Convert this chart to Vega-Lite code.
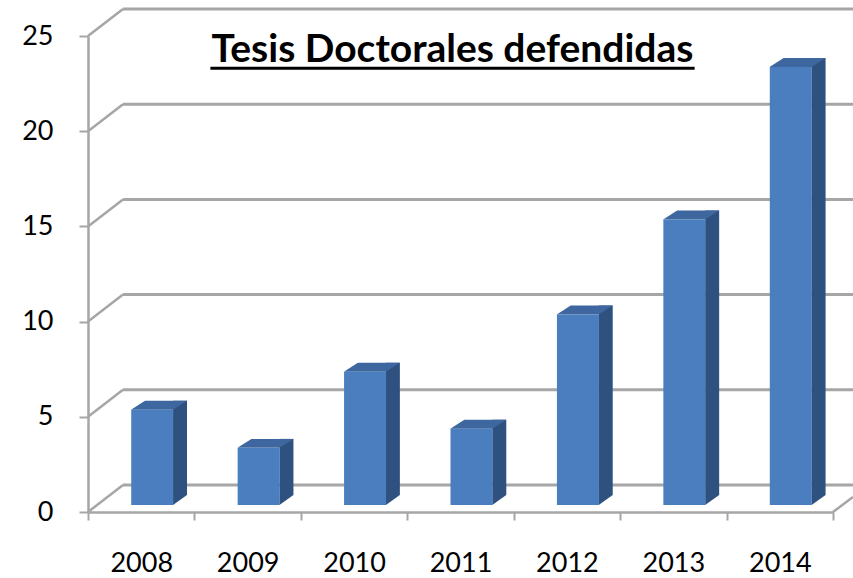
{
  "$schema": "https://vega.github.io/schema/vega-lite/v6.json",
  "width": 745,
  "height": 476,
  "autosize": {"type": "none"},
  "padding": {"left": 88, "top": 36, "right": 20, "bottom": 66},
  "background": "white",
  "config": {
    "view": {"stroke": null},
    "font": "Lato",
    "axis": {"grid": false, "domainColor": "#a6a6a6", "domainWidth": 2.5, "tickColor": "#a6a6a6", "tickWidth": 2, "labelColor": "#000000", "labelFont": "Lato", "labelFontSize": 26, "title": null}
  },
  "datasets": {
    "tesis": [
      {"year": "2008", "n": 5},
      {"year": "2009", "n": 3},
      {"year": "2010", "n": 7},
      {"year": "2011", "n": 4},
      {"year": "2012", "n": 10},
      {"year": "2013", "n": 15},
      {"year": "2014", "n": 23}
    ],
    "grid": [{"v": 0}, {"v": 5}, {"v": 10}, {"v": 15}, {"v": 20}, {"v": 25}],
    "one": [{"t": "Tesis Doctorales defendidas"}]
  },
  "layer": [
    {
      "data": {"name": "grid"},
      "mark": {"type": "rule", "color": "#a6a6a6", "strokeWidth": 3, "xOffset": 35, "x2Offset": 60, "yOffset": -27, "y2Offset": -27},
      "encoding": {
        "x": {"datum": "2008", "type": "nominal", "bandPosition": 0},
        "x2": {"datum": "2014", "bandPosition": 1},
        "y": {"field": "v", "type": "quantitative", "scale": {"domain": [0, 25], "nice": false, "zero": true}, "title": null},
        "y2": {"field": "v"}
      }
    },
    {
      "data": {"name": "grid"},
      "mark": {"type": "rule", "color": "#a6a6a6", "strokeWidth": 2.5, "x2Offset": 35, "y2Offset": -27},
      "encoding": {
        "x": {"datum": "2008", "type": "nominal", "bandPosition": 0},
        "x2": {"datum": "2008", "bandPosition": 0},
        "y": {"field": "v", "type": "quantitative"},
        "y2": {"field": "v"}
      }
    },
    {
      "data": {"name": "one"},
      "mark": {"type": "rule", "color": "#a6a6a6", "strokeWidth": 2.5, "x2Offset": 20, "y2Offset": -15},
      "encoding": {
        "x": {"datum": "2014", "type": "nominal", "bandPosition": 1},
        "x2": {"datum": "2014", "bandPosition": 1},
        "y": {"datum": 0, "type": "quantitative"},
        "y2": {"datum": 0}
      }
    },
    {
      "data": {"name": "tesis"},
      "mark": {"type": "bar", "color": "#2f5180", "width": 14, "xOffset": 38.8, "yOffset": -16, "y2Offset": -17},
      "encoding": {
        "x": {"field": "year", "type": "nominal"},
        "y": {"field": "n", "type": "quantitative"},
        "y2": {"datum": 0}
      }
    },
    {
      "data": {"name": "tesis"},
      "mark": {"type": "point", "shape": "M-1,-0.714L-1,0.714L1,-0.714Z", "size": 196, "filled": true, "opacity": 1, "color": "#2f5180", "strokeWidth": 0, "xOffset": 38.8, "yOffset": -12},
      "encoding": {
        "x": {"field": "year", "type": "nominal"},
        "y": {"datum": 0, "type": "quantitative"}
      }
    },
    {
      "data": {"name": "tesis"},
      "mark": {"type": "point", "shape": "M-1,0.16L0.5,0.16L1,-0.16L-0.5,-0.16Z", "size": 3136, "filled": true, "opacity": 1, "color": "#3d679e", "strokeWidth": 0, "xOffset": 17.8, "yOffset": -11.5},
      "encoding": {
        "x": {"field": "year", "type": "nominal"},
        "y": {"field": "n", "type": "quantitative"}
      }
    },
    {
      "data": {"name": "tesis"},
      "mark": {"type": "bar", "color": "#4a7ebf", "width": 42, "xOffset": 11, "yOffset": -7, "y2Offset": -7},
      "encoding": {
        "x": {
          "field": "year", "type": "nominal", "title": null,
          "scale": {"type": "band", "paddingInner": 0, "paddingOuter": 0},
          "axis": {"labelAngle": 0, "labelAlign": "center", "labelFontSize": 27, "tickBand": "extent", "tickSize": 8, "labelPadding": 30, "labelBaseline": "top"}
        },
        "y": {
          "field": "n", "type": "quantitative", "title": null,
          "axis": {"values": [0, 5, 10, 15, 20, 25], "tickSize": 9, "labelPadding": 26, "labelFontSize": 27}
        },
        "y2": {"datum": 0}
      }
    },
    {
      "data": {"name": "one"},
      "mark": {"type": "text", "font": "Lato", "fontWeight": "bold", "fontSize": 39, "align": "center", "baseline": "alphabetic", "color": "#000000", "dx": -8},
      "encoding": {
        "x": {"datum": "2011", "type": "nominal"},
        "y": {"datum": 23.63, "type": "quantitative"},
        "text": {"field": "t"}
      }
    },
    {
      "data": {"name": "one"},
      "mark": {"type": "rule", "color": "#000000", "strokeWidth": 3},
      "encoding": {
        "x": {"datum": "2009", "type": "nominal", "bandPosition": 0.15},
        "x2": {"datum": "2013", "bandPosition": 0.7},
        "y": {"datum": 23.3, "type": "quantitative"}
      }
    }
  ]
}
